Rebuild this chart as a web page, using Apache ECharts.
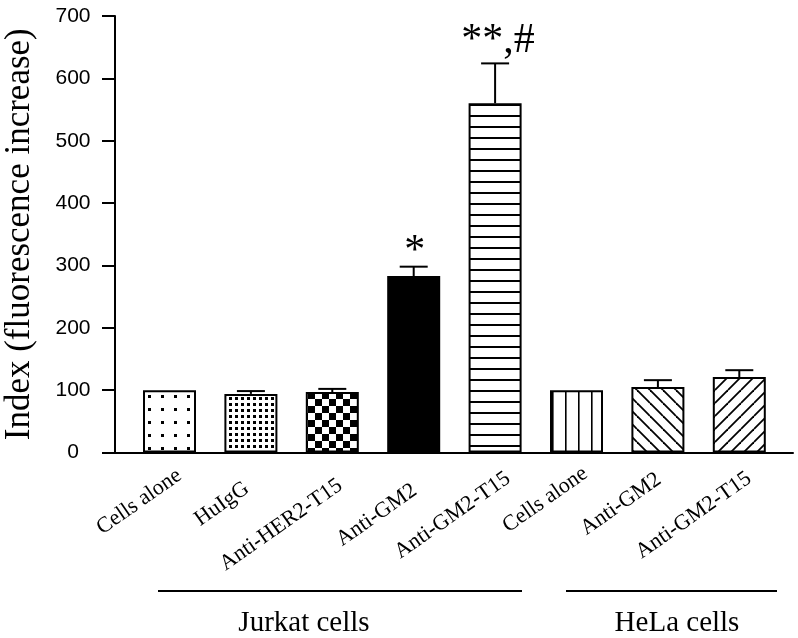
<!DOCTYPE html>
<html>
<head>
<meta charset="utf-8">
<script src="https://cdn.jsdelivr.net/npm/echarts@6/dist/echarts.min.js"></script>
<style>
  html, body { margin: 0; padding: 0; background: #fff; }
  #chart { width: 798px; height: 638px; }
</style>
</head>
<body>
<div id="chart"></div>
<script>
// ---- data ----
const categories = ['Cells alone', 'HuIgG', 'Anti-HER2-T15', 'Anti-GM2', 'Anti-GM2-T15', 'Cells alone', 'Anti-GM2', 'Anti-GM2-T15'];
const means = [100, 94, 97, 283, 560, 100, 105, 121];
const errors = [0, 4.5, 5, 15, 64, 0, 11, 11];
const annotations = ['', '', '', '*', '**,#', '', '', ''];
const yMin = 0, yMax = 700, yInterval = 100;
const yTitle = 'Index (fluorescence increase)';
const groupNames = ['Jurkat cells', 'HeLa cells'];

// ---- styles / layout ----
const patterns = ['sparseDots', 'denseDots', 'checker', 'solid', 'hlines', 'vlines', 'backslash', 'slash'];
const labelOffsets = [[10, 21], [-4, 34], [8, 31], [1, 36], [13, 24], [9, 19], [1, 25], [10, 24]];
const annotOffsets = { 3: [1, -15, 42], 4: [3, -22, 42] };

function makePattern(kind) {
  if (kind === 'solid') return '#000';
  const c = document.createElement('canvas');
  let s = 13;
  if (kind === 'denseDots') s = 6;
  if (kind === 'checker') s = 14;
  if (kind === 'hlines') s = 11;
  c.width = s; c.height = s;
  const g = c.getContext('2d');
  g.fillStyle = '#fff'; g.fillRect(0, 0, s, s);
  g.fillStyle = '#000'; g.strokeStyle = '#000';
  if (kind === 'sparseDots') { g.fillRect(5, 5, 3, 3); }
  else if (kind === 'denseDots') { g.fillRect(1, 1, 3, 3); }
  else if (kind === 'checker') { g.fillRect(0, 0, 7, 7); g.fillRect(7, 7, 7, 7); }
  else if (kind === 'hlines') { g.fillRect(0, 5, s, 2); }
  else if (kind === 'vlines') { g.fillRect(6, 0, 1.6, s); }
  else if (kind === 'backslash' || kind === 'slash') {
    g.lineWidth = 1.8;
    for (let k = -1; k <= 1; k++) {
      g.beginPath();
      if (kind === 'backslash') { g.moveTo(0, k * s); g.lineTo(s, s + k * s); }
      else { g.moveTo(0, s + k * s); g.lineTo(s, k * s); }
      g.stroke();
    }
  }
  return { image: c, repeat: 'repeat' };
}

const chart = echarts.init(document.getElementById('chart'), null, { renderer: 'canvas' });
const serif = '"Liberation Serif", "Times New Roman", serif';
const sans = '"Liberation Sans", Arial, sans-serif';

const option = {
  backgroundColor: '#fff',
  animation: false,
  grid: [
    { left: 115, right: 5, top: 16, bottom: 185.5, containLabel: false, outerBoundsMode: 'none' },
    { left: 128.8, right: 18, top: 16, bottom: 185.5, containLabel: false, outerBoundsMode: 'none' }
  ],
  xAxis: [
    { gridIndex: 0, type: 'value', min: 0, max: 1, axisLine: { show: true, lineStyle: { color: '#000', width: 2 } },
      axisTick: { show: false }, axisLabel: { show: false }, splitLine: { show: false } },
    { gridIndex: 1, type: 'category', data: categories.map((_, i) => i), axisLine: { show: false },
      axisTick: { show: false }, axisLabel: { show: false }, splitLine: { show: false } }
  ],
  yAxis: [
    { gridIndex: 0, type: 'value', min: yMin, max: yMax, interval: yInterval,
      name: yTitle, nameLocation: 'middle', nameGap: 78,
      nameTextStyle: { fontFamily: serif, fontSize: 35, color: '#000' },
      axisLine: { show: true, lineStyle: { color: '#000', width: 2 } },
      axisTick: { show: true, inside: false, length: 13, lineStyle: { color: '#000', width: 2 } },
      axisLabel: { fontFamily: sans, fontSize: 21, color: '#000', align: 'center', margin: 42 },
      splitLine: { show: false } },
    { gridIndex: 1, type: 'value', min: yMin, max: yMax, interval: yInterval, show: false }
  ],
  series: [
    {
      type: 'bar', xAxisIndex: 1, yAxisIndex: 1, barWidth: 53,
      data: means.map((v, i) => ({ value: v, itemStyle: { color: makePattern(patterns[i]) } })),
      itemStyle: { borderColor: '#000', borderWidth: 2 }
    },
    {
      type: 'custom', xAxisIndex: 1, yAxisIndex: 1, clip: false,
      data: means.map((m, i) => [i, m, m + errors[i]]),
      renderItem: function (params, api) {
        const i = api.value(0);
        const base = api.coord([i, api.value(1)]);
        const top = api.coord([i, api.value(2)]);
        const children = [];
        if (errors[i] > 0) {
          children.push({ type: 'line', shape: { x1: base[0], y1: base[1], x2: top[0], y2: top[1] }, style: { stroke: '#000', lineWidth: 2 } });
          children.push({ type: 'line', shape: { x1: top[0] - 14, y1: top[1], x2: top[0] + 14, y2: top[1] }, style: { stroke: '#000', lineWidth: 2 } });
        }
        if (annotations[i]) {
          const o = annotOffsets[i];
          children.push({ type: 'text', x: top[0] + o[0], y: top[1] + o[1],
            style: { text: annotations[i], fill: '#000', font: o[2] + 'px ' + serif, align: 'center', verticalAlign: 'middle' } });
        }
        return { type: 'group', children: children };
      }
    },
    {
      type: 'custom', xAxisIndex: 1, yAxisIndex: 1, clip: false,
      data: categories.map((c, i) => [i, 0]),
      renderItem: function (params, api) {
        const i = api.value(0);
        const p = api.coord([i, 0]);
        const o = labelOffsets[i];
        return { type: 'text', x: p[0] + o[0], y: p[1] + o[1], rotation: 35 * Math.PI / 180,
          style: { text: categories[i], fill: '#000', font: '22px ' + serif, align: 'right', verticalAlign: 'middle' } };
      }
    }
  ],
  graphic: [
    { type: 'line', shape: { x1: 158, y1: 591, x2: 522, y2: 591 }, style: { stroke: '#000', lineWidth: 2 } },
    { type: 'line', shape: { x1: 566, y1: 591, x2: 777, y2: 591 }, style: { stroke: '#000', lineWidth: 2 } },
    { type: 'text', x: 304, y: 623, style: { text: groupNames[0], fill: '#000', font: '29px ' + serif, align: 'center', verticalAlign: 'middle' } },
    { type: 'text', x: 677, y: 623, style: { text: groupNames[1], fill: '#000', font: '29px ' + serif, align: 'center', verticalAlign: 'middle' } }
  ]
};
chart.setOption(option);
</script>
</body>
</html>
